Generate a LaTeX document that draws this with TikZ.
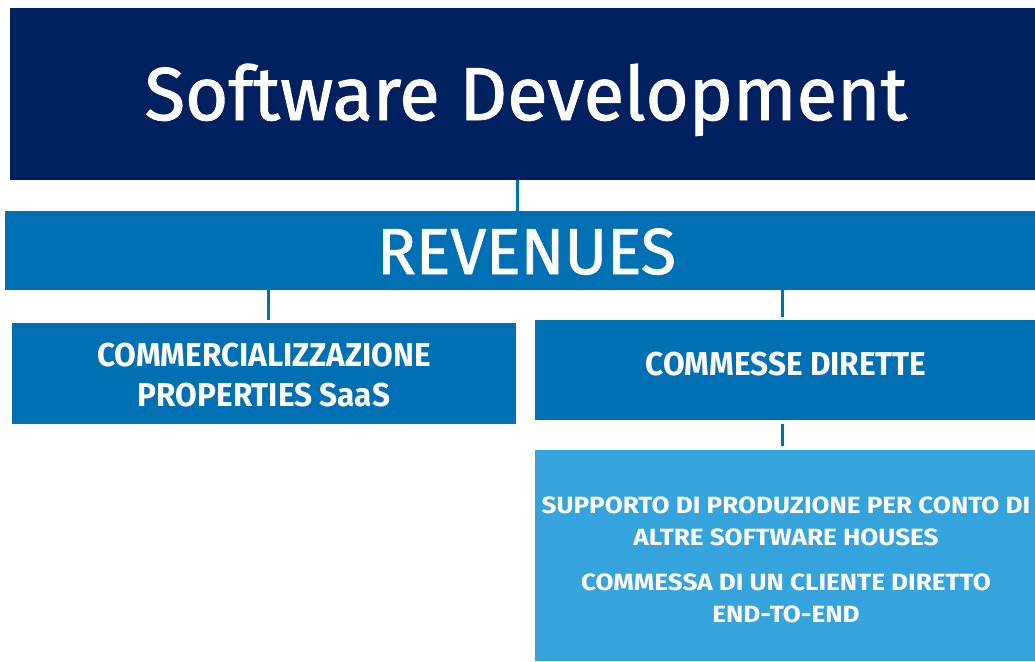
\documentclass[tikz,border=0pt]{standalone}
\usepackage{fontspec}
\setmainfont{Fira Sans}
\newfontfamily\titlefont[FakeBold=1.2,FakeStretch=0.99]{Fira Sans}
\newfontfamily\revfont[FakeBold=1.2,FakeStretch=0.99]{Fira Sans}
\newfontfamily\midfont[FakeStretch=0.955]{Fira Sans}
\newfontfamily\lowfont[FakeStretch=1.11]{Fira Sans}
\definecolor{navy}{RGB}{0,32,96}
\definecolor{midblue}{RGB}{0,112,181}
\definecolor{lightblue}{RGB}{54,164,220}
\begin{document}
\begin{tikzpicture}[x=1pt,y=-1pt,
  box/.style={inner sep=0pt,outer sep=0pt,text=white,align=center},
  link/.style={draw=midblue,line width=3pt}]
\useasboundingbox (0,0) rectangle (1035,661);
% boxes
\fill[navy] (10,8) rectangle (1035,180);
\node[box,anchor=base,font=\fontsize{75}{80}\selectfont\titlefont] (top) at (526,120) {Software Development};
\coordinate (topS) at (517,180);
\fill[midblue] (5,211) rectangle (1035,290);
\node[box,anchor=base,font=\fontsize{65}{70}\selectfont\revfont] (rev) at (526.5,274) {REVENUES};
\coordinate (revN) at (517,211);
\coordinate (revSL) at (268,290);
\coordinate (revSR) at (782,290);
\fill[midblue] (12,323) rectangle (516,424);
\node[box,font=\fontsize{33}{40}\selectfont\midfont\bfseries] (left) at (264,375.5) {COMMERCIALIZZAZIONE\\PROPERTIES SaaS};
\coordinate (leftN) at (268,320);
\fill[midblue] (535,320) rectangle (1035,420);
\node[box,anchor=base,font=\fontsize{33}{40}\selectfont\midfont\bfseries] (right) at (786,375) {COMMESSE DIRETTE};
\coordinate (rightN) at (782,317);
\coordinate (rightS) at (782,424);
\fill[lightblue] (535,450) rectangle (1035,661);
\node[box,font=\fontsize{23.5}{32}\selectfont\lowfont\bfseries] (bot) at (786,559.5) {%
  SUPPORTO DI PRODUZIONE PER CONTO DI\\ALTRE SOFTWARE HOUSES\\[13pt]
  COMMESSA DI UN CLIENTE DIRETTO\\END-TO-END};
\coordinate (botN) at (782,446);
% connectors
\draw[link] (topS) -- (revN);
\draw[link] (revSL) -- (leftN);
\draw[link] (revSR) -- (rightN);
\draw[link] (rightS) -- (botN);
\end{tikzpicture}
\end{document}
